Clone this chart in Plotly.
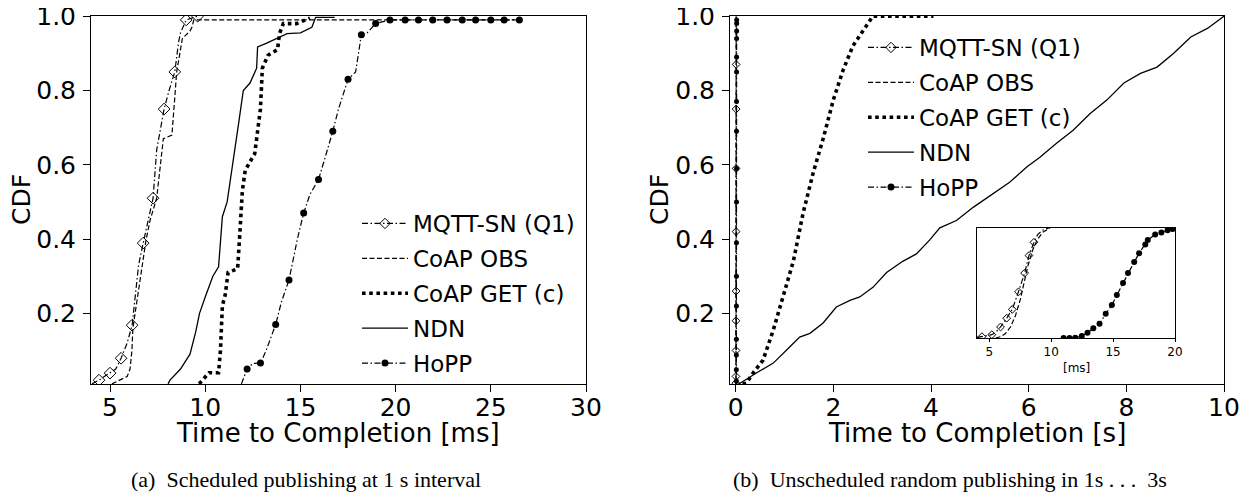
import plotly.graph_objects as go

# ---------------- data: (a) scheduled publishing, time in ms ----------------
mqtt_a_x = [4.05, 4.42, 4.7, 5.0, 5.3, 5.58, 5.9, 6.16, 6.35, 6.5, 6.74, 7.0, 7.26, 7.45, 7.6, 7.84, 8.1, 8.4, 8.6, 8.7, 9.0, 9.6]
mqtt_a_y = [0.01, 0.02, 0.03, 0.039, 0.05, 0.079, 0.12, 0.168, 0.25, 0.33, 0.389, 0.45, 0.51, 0.64, 0.68, 0.75, 0.80, 0.85, 0.93, 0.955, 0.99, 1.0]
mqtt_a_mx = [4.42, 5.0, 5.58, 6.16, 6.74, 7.26, 7.84, 8.4, 9.0, 9.6]
mqtt_a_my = [0.02, 0.039, 0.079, 0.168, 0.389, 0.51, 0.75, 0.85, 0.99, 1.0]

obs_a_x = [5.1, 5.5, 5.9, 6.05, 6.15, 6.2, 6.4, 6.6, 6.9, 7.1, 7.45, 7.8, 8.25, 8.4, 8.5, 8.8, 9.2, 9.3, 9.4, 10.2, 26.5]
obs_a_y = [0.01, 0.02, 0.03, 0.05, 0.10, 0.16, 0.23, 0.30, 0.40, 0.45, 0.51, 0.67, 0.68, 0.78, 0.85, 0.94, 0.96, 0.97, 0.99, 0.99, 0.99]

get_a_x = [9.68, 10.0, 10.2, 10.7, 10.8, 10.9, 11.05, 11.2, 11.7, 11.8, 11.95, 12.1, 12.6, 12.9, 13.0, 13.3, 13.8, 13.9, 14.1, 14.8, 15.5]
get_a_y = [0.01, 0.03, 0.04, 0.04, 0.10, 0.22, 0.25, 0.31, 0.32, 0.40, 0.53, 0.585, 0.63, 0.75, 0.86, 0.895, 0.91, 0.953, 0.98, 0.98, 0.995]

ndn_a_x = [8.05, 8.15, 8.7, 9.2, 9.5, 9.7, 10.0, 10.4, 10.7, 10.8, 10.9, 11.15, 11.5, 11.75, 12.0, 12.35, 12.7, 12.75, 13.2, 13.8, 14.3, 15.0, 15.6, 15.8, 16.8]
ndn_a_y = [0.01, 0.02, 0.05, 0.09, 0.15, 0.20, 0.244, 0.30, 0.325, 0.40, 0.46, 0.50, 0.63, 0.71, 0.80, 0.82, 0.86, 0.917, 0.927, 0.94, 0.953, 0.955, 0.97, 0.997, 0.997]

hopp_a_x = [11.9, 12.2, 12.5, 12.9, 13.2, 13.7, 14.0, 14.4, 14.84, 15.17, 15.5, 15.95, 16.3, 16.7, 17.0, 17.5, 17.9, 18.2, 18.5, 18.95, 19.7, 26.6]
hopp_a_y = [0.01, 0.05, 0.065, 0.066, 0.10, 0.17, 0.23, 0.29, 0.40, 0.47, 0.52, 0.56, 0.62, 0.69, 0.75, 0.83, 0.85, 0.95, 0.955, 0.98, 0.99, 0.99]
hopp_a_mx = [12.2, 12.9, 13.7, 14.4, 15.17, 15.95, 16.7, 17.5, 18.2, 18.95, 19.7, 20.5, 21.2, 21.95, 22.7, 23.5, 24.2, 25.0, 25.7, 26.5]
hopp_a_my = [0.05, 0.066, 0.17, 0.29, 0.47, 0.56, 0.69, 0.83, 0.95, 0.98, 0.99, 0.99, 0.99, 0.99, 0.99, 0.99, 0.99, 0.99, 0.99, 0.99]

# ---------------- data: (b) unscheduled random publishing ----------------
# fast protocols (ms, also drawn in seconds in the main panel)
mqtt_b_x = [4.0, 4.4, 5.2, 5.5, 5.9, 6.4, 6.85, 7.35, 7.85, 8.2, 8.6, 8.9, 9.3, 9.8]
mqtt_b_y = [0.005, 0.012, 0.03, 0.05, 0.10, 0.18, 0.26, 0.42, 0.59, 0.75, 0.87, 0.94, 0.98, 1.0]
mqtt_b_mx = [4.4, 5.2, 5.9, 6.4, 6.85, 7.35, 7.85, 8.2, 8.6]
mqtt_b_my = [0.012, 0.03, 0.10, 0.18, 0.26, 0.42, 0.59, 0.75, 0.87]

obs_b_x = [5.5, 5.9, 6.3, 6.7, 7.1, 7.5, 7.8, 8.1, 8.5, 8.85, 9.3, 9.9]
obs_b_y = [0.0, 0.012, 0.04, 0.10, 0.20, 0.35, 0.50, 0.65, 0.80, 0.89, 0.96, 1.0]

hopp_b_x = [11.0, 11.48, 11.94, 12.47, 12.93, 13.4, 13.9, 14.4, 14.9, 15.3, 15.8, 16.2, 16.7, 17.1, 17.6, 17.8, 18.4, 18.9, 19.4, 19.8]
hopp_b_y = [0.0, 0.0, 0.003, 0.018, 0.048, 0.088, 0.13, 0.22, 0.30, 0.39, 0.50, 0.59, 0.69, 0.77, 0.85, 0.89, 0.94, 0.96, 0.98, 0.99]

# slow protocols (seconds)
get_b_x = [0.0, 0.1, 0.22, 0.36, 0.56, 0.77, 0.97, 1.18, 1.38, 1.59, 1.79, 2.0, 2.2, 2.4, 2.68, 2.81, 4.05]
get_b_y = [0.005, 0.008, 0.012, 0.04, 0.074, 0.155, 0.245, 0.34, 0.47, 0.58, 0.67, 0.775, 0.855, 0.92, 0.975, 1.0, 1.0]

ndn_b_x = [0.03, 0.09, 0.43, 0.77, 1.11, 1.31, 1.52, 1.79, 2.06, 2.34, 2.54, 2.81, 3.09, 3.42, 3.7, 3.97,
           4.18, 4.52, 4.87, 5.27, 5.61, 5.96, 6.23, 6.57, 6.91, 7.26, 7.6, 7.95, 8.29, 8.63, 8.97, 9.32, 9.66, 10.0]
ndn_b_y = [0.005, 0.012, 0.04, 0.066, 0.11, 0.136, 0.146, 0.174, 0.217, 0.235, 0.244, 0.27, 0.31, 0.34, 0.36, 0.397,
           0.43, 0.45, 0.486, 0.523, 0.553, 0.594, 0.62, 0.658, 0.693, 0.738, 0.774, 0.82, 0.846, 0.863, 0.9, 0.944, 0.967, 1.0]

series_names = ["MQTT-SN (Q1)", "CoAP OBS", "CoAP GET (c)", "NDN", "HoPP"]
y_ticks = [0.2, 0.4, 0.6, 0.8, 1.0]
y_ticktext = ["0.2", "0.4", "0.6", "0.8", "1.0"]
xa_ticks = [5, 10, 15, 20, 25, 30]
xb_ticks = [0, 2, 4, 6, 8, 10]
inset_ticks = [5, 10, 15, 20]

# ---------------- geometry (screen px -> paper) ----------------
OFF = 8                      # page body margin
W, H = 1253 - OFF, 493 - OFF


def fx(p):
    return (p - OFF) / W


def fy(p):
    return 1 - (p - OFF) / H


FONT = "DejaVu Sans"
DASHDOT = "6px,2.5px,1.5px,2.5px"
STY = {
    "MQTT-SN (Q1)": dict(color="black", width=1.2, dash=DASHDOT),
    "CoAP OBS": dict(color="black", width=1.2, dash="5px,2.5px"),
    "CoAP GET (c)": dict(color="black", width=3.6, dash="3.6px,3.6px"),
    "NDN": dict(color="black", width=1.3, dash="solid"),
    "HoPP": dict(color="black", width=1.2, dash=DASHDOT),
}
MK = {
    "MQTT-SN (Q1)": dict(symbol="diamond-open", color="black", line=dict(color="black", width=1)),
    "HoPP": dict(symbol="circle", color="black", line=dict(width=0)),
}

fig = go.Figure()


def add_line(x, y, name, xa, ya, scale=1.0):
    fig.add_trace(go.Scatter(x=[v * scale for v in x], y=y, mode="lines", line=STY[name],
                             xaxis=xa, yaxis=ya, showlegend=False, hoverinfo="skip"))


def add_markers(x, y, name, xa, ya, size, scale=1.0):
    m = dict(MK[name])
    m["size"] = size
    fig.add_trace(go.Scatter(x=[v * scale for v in x], y=y, mode="markers", marker=m,
                             xaxis=xa, yaxis=ya, showlegend=False, hoverinfo="skip"))


# panel (a)
add_line(mqtt_a_x, mqtt_a_y, "MQTT-SN (Q1)", "x", "y")
add_markers(mqtt_a_mx, mqtt_a_my, "MQTT-SN (Q1)", "x", "y", 9)
add_line(obs_a_x, obs_a_y, "CoAP OBS", "x", "y")
add_line(get_a_x, get_a_y, "CoAP GET (c)", "x", "y")
add_line(ndn_a_x, ndn_a_y, "NDN", "x", "y")
add_line(hopp_a_x, hopp_a_y, "HoPP", "x", "y")
add_markers(hopp_a_mx, hopp_a_my, "HoPP", "x", "y", 7)

# panel (b) main (seconds)
ms = 0.001
add_line(mqtt_b_x, mqtt_b_y, "MQTT-SN (Q1)", "x2", "y2", ms)
add_markers(mqtt_b_mx, mqtt_b_my, "MQTT-SN (Q1)", "x2", "y2", 6, ms)
add_line(obs_b_x, obs_b_y, "CoAP OBS", "x2", "y2", ms)
add_line(get_b_x, get_b_y, "CoAP GET (c)", "x2", "y2")
add_line(ndn_b_x, ndn_b_y, "NDN", "x2", "y2")
add_line(hopp_b_x, hopp_b_y, "HoPP", "x2", "y2", ms)
add_markers(hopp_b_x, hopp_b_y, "HoPP", "x2", "y2", 5, ms)

# panel (b) inset (ms)
add_line(mqtt_b_x, mqtt_b_y, "MQTT-SN (Q1)", "x3", "y3")
add_markers(mqtt_b_mx, mqtt_b_my, "MQTT-SN (Q1)", "x3", "y3", 6)
add_line(obs_b_x, obs_b_y, "CoAP OBS", "x3", "y3")
add_line(hopp_b_x, hopp_b_y, "HoPP", "x3", "y3")
add_markers(hopp_b_x, hopp_b_y, "HoPP", "x3", "y3", 6)

# legend entries
for lg, xa, ya in (("legend", "x", "y"), ("legend2", "x2", "y2")):
    for name in series_names:
        tr = dict(x=[None], y=[None], name=name, line=STY[name], xaxis=xa, yaxis=ya,
                  legend=lg, legendgroup=lg + name, showlegend=True, hoverinfo="skip")
        if name in MK:
            m = dict(MK[name])
            m["size"] = 7 if name == "HoPP" else 8
            tr.update(mode="lines+markers", marker=m)
        else:
            tr.update(mode="lines")
        fig.add_trace(go.Scatter(**tr))

ydom = [fy(384), fy(16)]
axis_common = dict(showline=True, mirror=True, linecolor="black", linewidth=1, showgrid=False,
                   zeroline=False, ticks="outside", ticklen=7, tickwidth=1, tickcolor="black",
                   automargin=False, ticklabeloverflow="allow",
                   tickfont=dict(family=FONT, size=25, color="black"))
inset_common = dict(showline=True, mirror=True, linecolor="black", linewidth=1, showgrid=False,
                    zeroline=False, automargin=False)
leg_common = dict(xanchor="left", yanchor="top", bgcolor="rgba(0,0,0,0)",
                  font=dict(family=FONT, size=23, color="black"), tracegroupgap=2, itemwidth=46,
                  traceorder="grouped")

fig.update_layout(
    template="none",
    width=W, height=H, margin=dict(l=0, r=0, t=0, b=0, pad=0), autosize=False,
    paper_bgcolor="white", plot_bgcolor="white",
    font=dict(family=FONT, color="black"),
    xaxis=dict(domain=[fx(91), fx(586)], range=[4, 30], tickvals=xa_ticks, anchor="y",
               ticklabelstandoff=-6, **axis_common),
    yaxis=dict(domain=ydom, range=[0.0097, 1.0005], tickvals=y_ticks, ticktext=y_ticktext, anchor="x",
               ticklabelstandoff=2, **axis_common),
    xaxis2=dict(domain=[fx(730), fx(1224)], range=[-0.117, 10], tickvals=xb_ticks, anchor="y2",
                ticklabelstandoff=-6, **axis_common),
    yaxis2=dict(domain=ydom, range=[0.0097, 1.0005], tickvals=y_ticks, ticktext=y_ticktext, anchor="x2",
                ticklabelstandoff=2, **axis_common),
    xaxis3=dict(domain=[fx(977), fx(1175)], range=[4, 20], tickvals=inset_ticks, anchor="y3",
                ticks="outside", ticklen=3, tickwidth=1, tickcolor="black",
                tickfont=dict(family=FONT, size=12, color="black"), **inset_common),
    yaxis3=dict(domain=[fy(338), fy(228)], range=[0, 1], anchor="x3",
                showticklabels=False, ticks="", **inset_common),
    legend=dict(x=fx(357), y=fy(202), **leg_common),
    legend2=dict(x=fx(863), y=fy(26), **leg_common),
)

ann = [
    dict(text="CDF", x=fx(22), y=fy(200), textangle=-90, font=dict(size=25)),
    dict(text="CDF", x=fx(660), y=fy(200), textangle=-90, font=dict(size=25)),
    dict(text="Time to Completion [ms]", x=fx(338), y=fy(433), font=dict(size=26)),
    dict(text="Time to Completion [s]", x=fx(977), y=fy(433), font=dict(size=26)),
    dict(text="[ms]", x=fx(1076), y=fy(368), font=dict(size=12)),
    dict(text="(a)  Scheduled publishing at 1 s interval", x=fx(306), y=fy(479),
         font=dict(family="Liberation Serif", size=22)),
    dict(text="(b)  Unscheduled random publishing in 1s . . .  3s", x=fx(950), y=fy(479),
         font=dict(family="Liberation Serif", size=22)),
]
for a in ann:
    f = dict(family=FONT, color="black")
    f.update(a.pop("font"))
    fig.add_annotation(xref="paper", yref="paper", xanchor="center", yanchor="middle",
                       showarrow=False, font=f, **a)

fig.write_html("out.html")
